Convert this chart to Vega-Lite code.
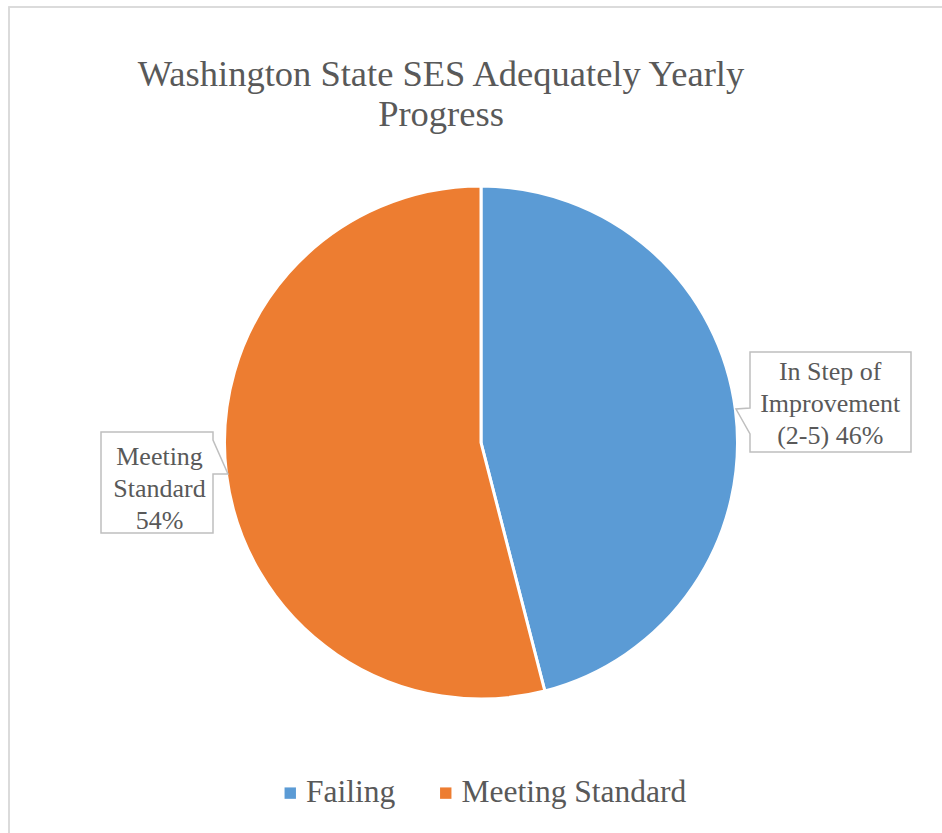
{
  "$schema": "https://vega.github.io/schema/vega-lite/v6.json",
  "width": 934,
  "height": 827,
  "autosize": {"type": "none"},
  "padding": {"left": 9, "top": 7, "right": -1, "bottom": -1},
  "background": "white",
  "title": {
    "text": ["Washington State SES Adequately Yearly", "Progress"],
    "font": "Liberation Serif",
    "fontSize": 36.5,
    "fontWeight": "normal",
    "color": "#595959",
    "anchor": "middle",
    "frame": "group",
    "dx": -35,
    "dy": 160,
    "lineHeight": 40,
    "baseline": "alphabetic"
  },
  "data": {
    "values": [
      {"category": "Failing", "value": 46, "label": "In Step of\nImprovement\n(2-5) 46%"},
      {"category": "Meeting Standard", "value": 54, "label": "Meeting\nStandard\n54%"}
    ]
  },
  "layer": [
    {
      "mark": {"type": "rect", "fill": null, "fillOpacity": 0, "stroke": "#D9D9D9", "strokeWidth": 1.5},
      "encoding": {}
    },
    {
      "mark": {"type": "arc", "outerRadius": 256.5, "stroke": "white", "strokeWidth": 3, "xOffset": 5, "yOffset": 22},
      "encoding": {
        "theta": {"field": "value", "type": "quantitative", "stack": true},
        "color": {
          "field": "category",
          "type": "nominal",
          "scale": {"domain": ["Failing", "Meeting Standard"], "range": ["#5B9BD5", "#ED7D31"]},
          "legend": {
            "title": null,
            "orient": "none",
            "legendX": 265.5,
            "legendY": 770,
            "direction": "horizontal"
          }
        }
      }
    },
    {
      "mark": {"type": "point", "filled": true, "fill": "white", "stroke": "#BFBFBF", "strokeWidth": 1.5, "opacity": 1, "size": 4, "xOffset": 5, "yOffset": 22},
      "encoding": {
        "shape": {
          "condition": {"test": "datum.category === 'Failing'", "value": "M269,-90.5H430V9.5H269V-8.5L255,-33.5L269,-34.5Z"},
          "value": "M-380,-10.5H-268V-2.5L-253,31.5L-268,31.5V90.5H-380Z"
        }
      }
    },
    {
      "mark": {"type": "text", "font": "Liberation Serif", "fontSize": 26, "color": "#595959", "align": "center", "baseline": "middle", "lineBreak": "\n", "lineHeight": 32, "dy": -26, "xOffset": 5, "yOffset": 22},
      "encoding": {
        "theta": {"field": "value", "type": "quantitative", "stack": true},
        "detail": {"field": "category", "type": "nominal"},
        "radius": {"field": "value", "type": "quantitative", "scale": {"type": "linear", "domain": [46, 54], "range": [352, 324], "zero": false}, "legend": null},
        "text": {"field": "label", "type": "nominal"}
      }
    }
  ],
  "config": {
    "view": {"stroke": null},
    "legend": {
      "symbolType": "square",
      "symbolSize": 130,
      "symbolStrokeWidth": 0,
      "labelFont": "Liberation Serif",
      "labelFontSize": 31.5,
      "labelColor": "#595959",
      "labelOffset": 0,
      "labelLimit": 400,
      "columnPadding": 34.5,
      "padding": 0
    }
  }
}
